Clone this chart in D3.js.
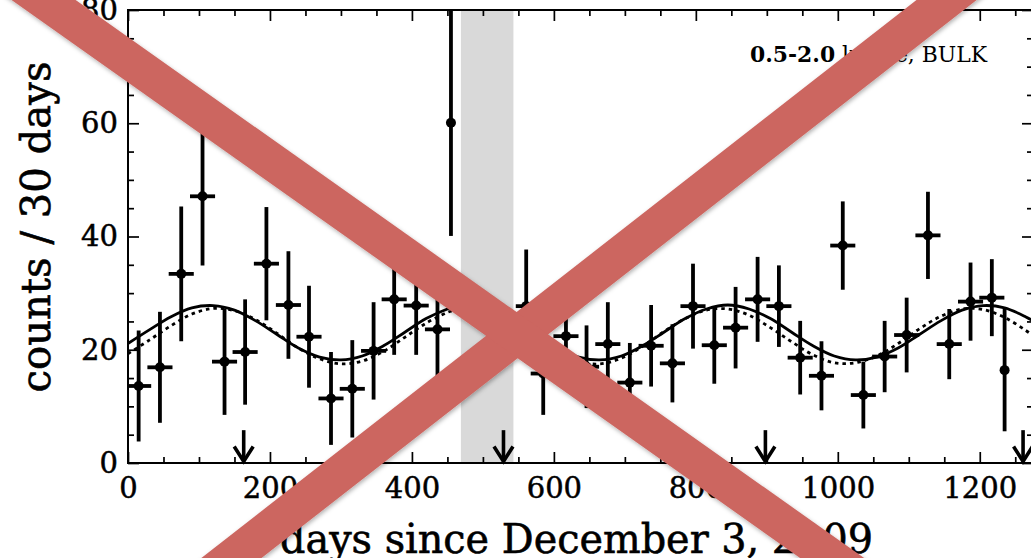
<!DOCTYPE html>
<html>
<head>
<meta charset="utf-8">
<script src="https://cdn.jsdelivr.net/npm/d3@7"></script>
<style>
    html, body { margin: 0; padding: 0; background: #fff; overflow: hidden; }
    svg { display: block; background: #fff; }
</style>
</head>
<body>
<svg id="chart" width="1031" height="558"></svg>
<script>
// binned counts (30 day bins)
var days = [15, 45, 75, 105, 136, 165, 195, 226, 255, 286, 316, 346, 375, 406, 436, 455,
            561, 585, 617, 646, 676, 707, 737, 767, 796, 826, 856, 887, 917, 947, 977, 1007,
            1036, 1066, 1097, 1127, 1157, 1187, 1217, 1235];
var counts = [13.6, 16.9, 33.4, 47.1, 17.9, 19.6, 35.2, 27.9, 22.3, 11.4, 13.1, 19.8, 28.9, 27.8, 23.6, 60.1,
              27.7, 15.8, 22.4, 17.0, 21.0, 14.2, 20.7, 17.6, 27.7, 20.8, 23.9, 28.9, 27.7, 18.6, 15.4, 38.4,
              12.0, 18.8, 22.6, 40.2, 21.0, 28.5, 29.2, 16.4];
var errors = [9.8, 9.8, 11.9, 12.2, 9.4, 9.3, 10.0, 9.5, 9.0, 8.2, 8.6, 8.6, 9.8, 8.7, 8.4, 20.0,
              10.0, 7.3, 7.6, 7.3, 7.4, 7.0, 7.2, 6.9, 7.5, 6.8, 7.2, 7.5, 7.2, 6.5, 6.1, 7.8,
              5.9, 6.3, 6.6, 7.7, 6.2, 6.9, 6.8, 10.8];
var binHalf = [15, 15, 15, 15, 15, 15, 15, 15, 15, 15, 15, 15, 15, 15, 15, 0,
               12, 15, 15, 15, 15, 15, 15, 15, 15, 15, 15, 15, 15, 15, 15, 15,
               15, 15, 15, 15, 15, 15, 15, 0];

// modulation fits (solid and dotted), sampled off the figure
var fitDaysA = [0, 30, 60, 90, 120, 150, 180, 210, 240, 270, 300, 330, 360, 390, 420, 450, 458];
var fitSolidA = [21.1, 23.5, 25.8, 27.4, 27.8, 27.0, 25.1, 22.7, 20.3, 18.7, 18.2, 18.9, 20.7, 23.1, 25.5, 27.2, 27.5];
var fitDottedA = [19.3, 21.7, 24.2, 26.3, 27.3, 26.9, 25.3, 22.9, 20.3, 18.4, 17.5, 18.0, 19.7, 22.2, 24.7, 26.6, 26.9];
var fitDaysB = [543, 575, 605, 635, 665, 695, 725, 755, 785, 815, 845, 875, 905, 935, 965, 995,
                1025, 1055, 1085, 1115, 1145, 1175, 1205, 1235, 1265, 1275];
var fitSolidB = [25.3, 22.7, 20.3, 18.7, 18.2, 18.9, 20.7, 23.1, 25.5, 27.2, 27.9, 27.2, 25.5, 23.1, 20.7, 18.9,
                 18.2, 18.7, 20.3, 22.7, 25.1, 27.0, 27.8, 27.4, 25.8, 25.1];
var fitDottedB = [24.6, 21.9, 19.5, 17.9, 17.5, 18.5, 20.6, 23.2, 25.5, 27.0, 27.2, 26.1, 23.9, 21.4, 19.1, 17.7,
                  17.7, 18.9, 21.1, 23.7, 25.9, 27.2, 27.1, 25.7, 23.4, 22.5];

var gapDays = [469, 543];
var arrowDays = [163, 529, 898, 1261];
var xTicks = [0, 200, 400, 600, 800, 1000, 1200];
var yTicks = [0, 20, 40, 60, 80];
var legendBold = '0.5-2.0', legendRest = ' keVee, BULK';
var xTitle = 'days since December 3, 2009', yTitle = 'counts / 30 days';

var W = 1031, H = 558,
    FONT = "'DejaVu Serif', serif";

var svg = d3.select('#chart');

var x = d3.scaleLinear().domain([0, 1275]).range([128, 1033]),
    y = d3.scaleLinear().domain([0, 80]).range([463, 10]);

svg.append('defs').append('clipPath').attr('id', 'plotClip')
    .append('rect')
    .attr('x', x(0)).attr('y', y(80))
    .attr('width', x(1275) - x(0)).attr('height', y(0) - y(80));

var plot = svg.append('g').attr('clip-path', 'url(#plotClip)');

// excluded interval
plot.append('rect')
    .attr('x', x(gapDays[0]))
    .attr('y', y(80))
    .attr('width', x(gapDays[1]) - x(gapDays[0]))
    .attr('height', y(0) - y(80))
    .attr('fill', '#d9d9d9');

// fit curves
var line = d3.line()
    .x(function(d) { return x(d[0]); })
    .y(function(d) { return y(d[1]); })
    .curve(d3.curveCatmullRom.alpha(0.5));

function drawFit(dayArr, valArr, dashed) {
    plot.append('path')
        .datum(d3.zip(dayArr, valArr))
        .attr('d', line)
        .attr('fill', 'none')
        .attr('stroke', '#000')
        .attr('stroke-width', dashed ? 2.8 : 2.8)
        .attr('stroke-dasharray', dashed ? '3.5,4' : null);
}
drawFit(fitDaysA, fitDottedA, true);
drawFit(fitDaysB, fitDottedB, true);
drawFit(fitDaysA, fitSolidA, false);
drawFit(fitDaysB, fitSolidB, false);

// data points with error bars
var pts = days.map(function(d, i) {
    return {day: d, c: counts[i], e: errors[i], h: binHalf[i]};
});

var pg = plot.append('g').attr('stroke', '#000').attr('stroke-width', 3.8);

pg.selectAll('line.v').data(pts).enter().append('line')
    .attr('class', 'v')
    .attr('x1', function(d) { return x(d.day); })
    .attr('x2', function(d) { return x(d.day); })
    .attr('y1', function(d) { return y(Math.max(0, d.c - d.e)); })
    .attr('y2', function(d) { return y(d.c + d.e); });

pg.selectAll('line.h').data(pts.filter(function(d) { return d.h > 0; })).enter().append('line')
    .attr('class', 'h')
    .attr('stroke-linecap', 'square')
    .attr('x1', function(d) { return x(d.day - d.h); })
    .attr('x2', function(d) { return x(d.day + d.h); })
    .attr('y1', function(d) { return y(d.c); })
    .attr('y2', function(d) { return y(d.c); });

plot.selectAll('circle.pt').data(pts).enter().append('circle')
    .attr('class', 'pt')
    .attr('cx', function(d) { return x(d.day); })
    .attr('cy', function(d) { return y(d.c); })
    .attr('r', 5)
    .attr('fill', '#000');

// yearly arrows
var ag = svg.append('g').attr('stroke', '#000').attr('stroke-width', 3.6).attr('fill', 'none');
arrowDays.forEach(function(d) {
    var ax = x(d), tip = y(0) - 1.5;
    ag.append('line').attr('x1', ax).attr('x2', ax).attr('y1', y(5.8)).attr('y2', tip);
    ag.append('path').attr('d', 'M' + (ax - 9.5) + ',' + (tip - 15) + 'L' + ax + ',' + tip + 'L' + (ax + 9.5) + ',' + (tip - 15));
});

// axes
function styleAxis(g) {
    g.select('.domain').remove();
    g.attr('font-family', FONT).attr('font-size', 29);
    g.selectAll('line').attr('stroke', '#000').attr('stroke-width', 1.7);
    g.selectAll('text').attr('fill', '#000').attr('stroke', '#000').attr('stroke-width', 0.5);
}

var xMinor = d3.range(0, 1276, 50).filter(function(v) { return v % 200 !== 0; }),
    yMinor = d3.range(0, 81, 5).filter(function(v) { return v % 20 !== 0; });

svg.append('g').attr('transform', 'translate(0,' + y(0) + ')')
    .call(d3.axisBottom(x).tickValues(xTicks).tickSizeInner(-11).tickSizeOuter(0).tickPadding(14).tickFormat(d3.format('d')))
    .call(styleAxis);
svg.append('g').attr('transform', 'translate(0,' + y(0) + ')')
    .call(d3.axisBottom(x).tickValues(xMinor).tickSizeInner(-6).tickSizeOuter(0).tickFormat(''))
    .call(styleAxis);
svg.append('g').attr('transform', 'translate(0,' + y(80) + ')')
    .call(d3.axisTop(x).tickValues(xTicks).tickSizeInner(-11).tickSizeOuter(0).tickFormat(''))
    .call(styleAxis);
svg.append('g').attr('transform', 'translate(0,' + y(80) + ')')
    .call(d3.axisTop(x).tickValues(xMinor).tickSizeInner(-6).tickSizeOuter(0).tickFormat(''))
    .call(styleAxis);

svg.append('g').attr('transform', 'translate(' + x(0) + ',0)')
    .call(d3.axisLeft(y).tickValues(yTicks).tickSizeInner(-11).tickSizeOuter(0).tickPadding(10).tickFormat(d3.format('d')))
    .call(styleAxis);
svg.append('g').attr('transform', 'translate(' + x(0) + ',0)')
    .call(d3.axisLeft(y).tickValues(yMinor).tickSizeInner(-6).tickSizeOuter(0).tickFormat(''))
    .call(styleAxis);
svg.append('g').attr('transform', 'translate(' + x(1275) + ',0)')
    .call(d3.axisRight(y).tickValues(yTicks).tickSizeInner(-11).tickSizeOuter(0).tickFormat(''))
    .call(styleAxis);
svg.append('g').attr('transform', 'translate(' + x(1275) + ',0)')
    .call(d3.axisRight(y).tickValues(yMinor).tickSizeInner(-6).tickSizeOuter(0).tickFormat(''))
    .call(styleAxis);

svg.append('rect')
    .attr('x', x(0)).attr('y', y(80))
    .attr('width', x(1275) - x(0)).attr('height', y(0) - y(80))
    .attr('fill', 'none').attr('stroke', '#000').attr('stroke-width', 2);

// titles
svg.append('text')
    .attr('x', 576.5).attr('y', 553)
    .attr('text-anchor', 'middle')
    .attr('font-family', FONT).attr('font-size', 41)
    .attr('stroke', '#000').attr('stroke-width', 0.6)
    .attr('textLength', 593).attr('lengthAdjust', 'spacingAndGlyphs')
    .text(xTitle);

svg.append('text')
    .attr('transform', 'translate(50,227) rotate(-90)')
    .attr('text-anchor', 'middle')
    .attr('font-family', FONT).attr('font-size', 41)
    .attr('stroke', '#000').attr('stroke-width', 0.6)
    .attr('textLength', 331).attr('lengthAdjust', 'spacingAndGlyphs')
    .text(yTitle);

var leg = svg.append('text')
    .attr('x', 750).attr('y', 62)
    .attr('font-family', FONT).attr('font-size', 23)
    .attr('textLength', 237).attr('lengthAdjust', 'spacingAndGlyphs');
leg.append('tspan').attr('font-weight', 'bold').text(legendBold);
leg.append('tspan').text(legendRest);

// red cross drawn over the figure
var shadow = svg.select('defs').append('filter').attr('id', 'shadow')
    .attr('x', '-20%').attr('y', '-20%').attr('width', '140%').attr('height', '140%');
shadow.append('feDropShadow').attr('dx', 1).attr('dy', 2).attr('stdDeviation', 2)
    .attr('flood-color', '#000').attr('flood-opacity', 0.3);

var cross = svg.append('g').attr('stroke', '#cc6660').attr('stroke-width', 37)
    .attr('filter', 'url(#shadow)');
cross.append('line')
    .attr('x1', W * 0.9554).attr('y1', -30)
    .attr('x2', W * 0.1872).attr('y2', H + 30);
cross.append('line')
    .attr('x1', W * 0.0012).attr('y1', -30)
    .attr('x2', W * 0.8482).attr('y2', H + 30);
</script>
</body>
</html>
